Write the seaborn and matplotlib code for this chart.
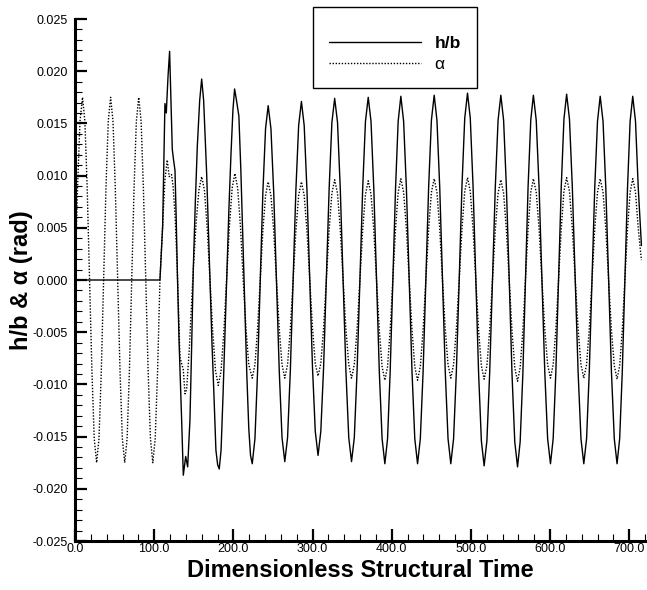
import numpy as np
import pandas as pd
import seaborn as sns
import matplotlib.pyplot as plt
from matplotlib.ticker import MultipleLocator, FormatStrFormatter, FuncFormatter

# h/b stays at rest until the structure is released
hb_rest_t = [0.0]
hb_rest_v = [0.0]

# h/b right after release (irregular first cycles)
hb_onset_t = [107.3, 110.7, 113.6, 115.3, 117.5, 119.5, 121.0, 122.9, 124.5, 126.3,
              127.8, 129.2, 131.5, 134.7, 136.8, 139.8, 142.3, 145.2, 147.3, 149.4,
              152.0, 154.5, 157.5, 160.0, 162.5, 164.5, 166.3, 168.5, 170.5, 173.0,
              175.5, 178.0, 180.2, 182.2, 184.5, 187.0, 189.5, 192.0, 194.5, 197.0,
              199.5, 201.6, 204.0, 207.0, 209.5, 212.0, 214.5, 217.0, 219.5, 221.7]
hb_onset_v = [0.0, 0.0051, 0.0169, 0.0160, 0.0195, 0.0219, 0.0178, 0.0125, 0.0115, 0.0105,
              0.0060, 0.0010, -0.0060, -0.0134, -0.0187, -0.0169, -0.0179, -0.0134, -0.0065, 0.0010,
              0.0075, 0.0128, 0.0172, 0.01925, 0.0172, 0.0135, 0.0102, 0.0050, 0.0, -0.0060,
              -0.0110, -0.0163, -0.0177, -0.0181, -0.0163, -0.0110, -0.0050, 0.0010, 0.0070, 0.0120,
              0.0163, 0.0183, 0.0172, 0.0157, 0.0105, 0.0040, -0.0025, -0.0090, -0.0142, -0.0168]

# alpha free oscillation before release
alpha_free_t = [0.0, 3.2, 6.3, 9.5, 12.5, 15.4, 18.4, 21.4, 24.3, 27.3,
                30.3, 33.2, 36.2, 39.1, 42.0, 45.0, 48.0, 50.9, 53.9, 56.9,
                59.8, 62.8, 65.8, 68.7, 71.7, 74.6, 77.5, 80.5, 83.5, 86.4,
                89.4, 92.4, 95.3, 98.3, 101.3, 104.3, 107.3]
alpha_free_v = [0.0, 0.0088, 0.0152, 0.0175, 0.0152, 0.0088, 0.0, -0.0088, -0.0152, -0.0175,
                -0.0152, -0.0088, 0.0, 0.0088, 0.0152, 0.0175, 0.0152, 0.0088, 0.0, -0.0088,
                -0.0152, -0.0175, -0.0152, -0.0088, 0.0, 0.0088, 0.0152, 0.0175, 0.0152, 0.0088,
                0.0, -0.0088, -0.0152, -0.0175, -0.0152, -0.0088, 0.0]

# alpha right after release
alpha_onset_t = [110.7, 113.5, 116.5, 119.0, 122.0, 124.0, 126.5, 129.2, 132.6, 136.8,
                 138.9, 141.0, 144.3, 149.4, 153.0, 156.5, 160.0, 163.5, 167.0, 170.5,
                 174.0, 177.5, 181.0, 184.5, 188.0, 191.5, 195.0, 198.5, 202.0, 205.5,
                 209.0, 212.5, 216.0, 219.5]
alpha_onset_v = [0.0051, 0.0095, 0.0115, 0.0099, 0.0101, 0.0089, 0.0060, 0.0010, -0.0074, -0.0086,
                 -0.0109, -0.0105, -0.0067, 0.0010, 0.0055, 0.0086, 0.0099, 0.0086, 0.0050, 0.0,
                 -0.0050, -0.0087, -0.0101, -0.0087, -0.0050, 0.0, 0.0051, 0.0088, 0.0102, 0.0088,
                 0.0051, 0.0, -0.0047, -0.0081]

# settled limit cycle, both signals (in phase)
cyc_t = [223.9, 227.3, 230.6, 234.0, 237.3, 240.7,
         244.0, 247.5, 251.0, 254.5, 258.0, 261.5,
         265.0, 268.5, 272.0, 275.5, 279.0, 282.5,
         286.0, 289.5, 293.0, 296.5, 300.0, 303.5,
         307.0, 310.5, 314.0, 317.5, 321.0, 324.5,
         328.0, 331.6, 335.1, 338.7, 342.2, 345.8,
         349.3, 352.8, 356.3, 359.9, 363.4, 366.9,
         370.4, 373.9, 377.4, 380.9, 384.4, 387.9,
         391.4, 394.8, 398.1, 401.5, 404.9, 408.2,
         411.6, 415.1, 418.6, 422.2, 425.7, 429.2,
         432.7, 436.2, 439.7, 443.2, 446.7, 450.2,
         453.7, 457.2, 460.7, 464.2, 467.7, 471.2,
         474.7, 478.2, 481.7, 485.3, 488.8, 492.3,
         495.8, 499.3, 502.8, 506.3, 509.8, 513.3,
         516.8, 520.3, 523.8, 527.4, 530.9, 534.4,
         537.9, 541.4, 544.9, 548.5, 552.0, 555.5,
         559.0, 562.3, 565.7, 569.0, 572.3, 575.7,
         579.0, 582.6, 586.2, 589.8, 593.4, 597.0,
         600.6, 604.0, 607.4, 610.8, 614.2, 617.6,
         621.0, 624.6, 628.2, 631.9, 635.5, 639.1,
         642.7, 646.2, 649.6, 653.1, 656.5, 660.0,
         663.4, 667.0, 670.5, 674.1, 677.6, 681.2,
         684.7, 688.0, 691.3, 694.6, 697.9, 701.2,
         704.5, 708.0, 711.5, 715.5]
hb_cyc_v = [-0.0176, -0.0152, -0.0088, 0.0, 0.0084, 0.0145,
            0.0167, 0.0145, 0.0084, 0.0, -0.0087, -0.0151,
            -0.0174, -0.0151, -0.0087, 0.0, 0.0086, 0.0148,
            0.0171, 0.0148, 0.0086, 0.0, -0.0084, -0.0145,
            -0.0168, -0.0145, -0.0084, 0.0, 0.0087, 0.0151,
            0.0174, 0.0151, 0.0087, 0.0, -0.0087, -0.0151,
            -0.0174, -0.0151, -0.0087, 0.0, 0.0088, 0.0152,
            0.0175, 0.0152, 0.0088, 0.0, -0.0088, -0.0152,
            -0.0176, -0.0152, -0.0088, 0.0, 0.0088, 0.0152,
            0.0176, 0.0152, 0.0088, 0.0, -0.0088, -0.0152,
            -0.0176, -0.0152, -0.0088, 0.0, 0.0089, 0.0153,
            0.0177, 0.0153, 0.0089, 0.0, -0.0088, -0.0152,
            -0.0176, -0.0152, -0.0088, 0.0, 0.0090, 0.0155,
            0.0179, 0.0155, 0.0090, 0.0, -0.0089, -0.0154,
            -0.0178, -0.0154, -0.0089, 0.0, 0.0089, 0.0153,
            0.0177, 0.0153, 0.0089, 0.0, -0.0090, -0.0155,
            -0.0179, -0.0155, -0.0090, 0.0, 0.0089, 0.0153,
            0.0177, 0.0153, 0.0089, 0.0, -0.0088, -0.0152,
            -0.0176, -0.0152, -0.0088, 0.0, 0.0089, 0.0154,
            0.0178, 0.0154, 0.0089, 0.0, -0.0088, -0.0152,
            -0.0176, -0.0152, -0.0088, 0.0, 0.0088, 0.0152,
            0.0176, 0.0152, 0.0088, 0.0, -0.0088, -0.0152,
            -0.0176, -0.0152, -0.0088, 0.0, 0.0088, 0.0152,
            0.0176, 0.0152, 0.0088, 0.0033]
alpha_cyc_v = [-0.0094, -0.0081, -0.0047, 0.0, 0.0047, 0.0081,
               0.0094, 0.0081, 0.0047, 0.0, -0.0047, -0.0081,
               -0.0094, -0.0081, -0.0047, 0.0, 0.0047, 0.0081,
               0.0094, 0.0081, 0.0047, 0.0, -0.0046, -0.0080,
               -0.0092, -0.0080, -0.0046, 0.0, 0.0048, 0.0083,
               0.0096, 0.0083, 0.0048, 0.0, -0.0047, -0.0081,
               -0.0094, -0.0081, -0.0047, 0.0, 0.0048, 0.0082,
               0.0095, 0.0082, 0.0048, 0.0, -0.0048, -0.0083,
               -0.0096, -0.0083, -0.0048, 0.0, 0.0049, 0.0084,
               0.0097, 0.0084, 0.0049, 0.0, -0.0048, -0.0083,
               -0.0096, -0.0083, -0.0048, 0.0, 0.0049, 0.0084,
               0.0097, 0.0084, 0.0049, 0.0, -0.0047, -0.0081,
               -0.0094, -0.0081, -0.0047, 0.0, 0.0049, 0.0085,
               0.0098, 0.0085, 0.0049, 0.0, -0.0048, -0.0082,
               -0.0095, -0.0082, -0.0048, 0.0, 0.0048, 0.0083,
               0.0096, 0.0083, 0.0048, 0.0, -0.0049, -0.0084,
               -0.0097, -0.0084, -0.0049, 0.0, 0.0049, 0.0084,
               0.0097, 0.0084, 0.0049, 0.0, -0.0047, -0.0081,
               -0.0094, -0.0081, -0.0047, 0.0, 0.0049, 0.0085,
               0.0098, 0.0085, 0.0049, 0.0, -0.0047, -0.0081,
               -0.0094, -0.0081, -0.0047, 0.0, 0.0049, 0.0084,
               0.0097, 0.0084, 0.0049, 0.0, -0.0048, -0.0082,
               -0.0095, -0.0082, -0.0048, 0.0, 0.0049, 0.0084,
               0.0097, 0.0084, 0.0049, 0.0019]


def build_frame(times, values):
    """ Glues the pieces of one signal into a dataframe. """
    return pd.DataFrame({"time": np.concatenate(times),
                         "value": np.concatenate(values)})


def y_label_fmt(v, pos):
    # avoid "-0.000" from float round-off
    if abs(v) < 1e-9:
        v = 0.0
    return "{:.3f}".format(v)


df_hb = build_frame([hb_rest_t, hb_onset_t, cyc_t],
                    [hb_rest_v, hb_onset_v, hb_cyc_v])
df_alpha = build_frame([alpha_free_t, alpha_onset_t, cyc_t],
                       [alpha_free_v, alpha_onset_v, alpha_cyc_v])

sns.set_style("ticks")
plt.rcParams["font.family"] = ["Liberation Sans", "DejaVu Sans"]
plt.rcParams["text.color"] = "black"
plt.rcParams["axes.labelcolor"] = "black"
plt.rcParams["xtick.color"] = "black"
plt.rcParams["ytick.color"] = "black"

fig = plt.figure(figsize=(6.47, 5.90), dpi=100)
ax = fig.add_axes([75 / 647, 1 - 541 / 590, 570 / 647, 522 / 590])

sns.lineplot(data=df_hb, x="time", y="value", sort=False, estimator=None,
             color="black", linewidth=1.0, label="h/b", ax=ax)
sns.lineplot(data=df_alpha, x="time", y="value", sort=False, estimator=None,
             color="black", linewidth=1.0, linestyle=(0, (1, 1.2)),
             label="α", ax=ax)

ax.set_xlim(0, 720)
ax.set_ylim(-0.025, 0.025)
ax.xaxis.set_major_locator(MultipleLocator(100))
ax.xaxis.set_minor_locator(MultipleLocator(20))
ax.yaxis.set_major_locator(MultipleLocator(0.005))
ax.yaxis.set_minor_locator(MultipleLocator(0.001))
ax.xaxis.set_major_formatter(FormatStrFormatter("%.1f"))
ax.yaxis.set_major_formatter(FuncFormatter(y_label_fmt))

# tecplot-like axes: thick left/bottom, ticks pointing inward
for side in ["top", "right"]:
    ax.spines[side].set_visible(False)
for side in ["left", "bottom"]:
    ax.spines[side].set_linewidth(2.2)
    ax.spines[side].set_color("black")
ax.tick_params(which="major", direction="in", length=8.5, width=1.6,
               labelsize=9, colors="black")
ax.tick_params(which="minor", direction="in", length=5, width=0.8,
               colors="black")
ax.tick_params(axis="x", which="major", pad=1.5)
ax.tick_params(axis="y", which="major", pad=5)

ax.set_xlabel("Dimensionless Structural Time", fontsize=17,
              fontweight="bold", labelpad=3)
ax.set_ylabel("h/b & α (rad)", fontsize=17, fontweight="bold", labelpad=0)

# blank small title only pushes the entries down inside the box
leg = ax.legend(loc="upper left", bbox_to_anchor=(313 / 647, 1 - 7 / 590),
                bbox_transform=fig.transFigure, fontsize=12.5,
                title=" ", title_fontsize=5,
                handlelength=5.3, handletextpad=0.8, borderpad=0.9,
                labelspacing=0.35, borderaxespad=0, fancybox=False,
                framealpha=1)
leg.get_frame().set_edgecolor("black")
leg.get_frame().set_linewidth(1.0)
leg.get_texts()[0].set_fontweight("bold")

fig.savefig("out.png", dpi=100)
